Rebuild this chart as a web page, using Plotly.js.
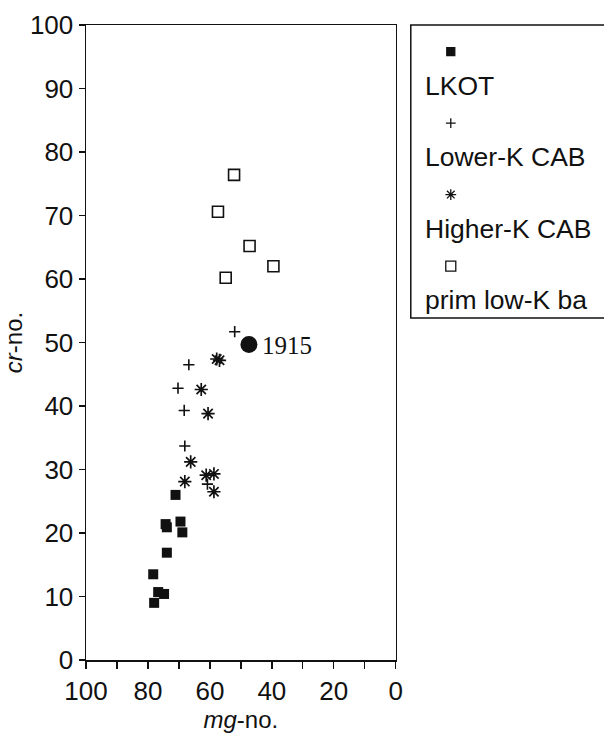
<!DOCTYPE html>
<html>
<head>
<meta charset="utf-8">
<script src="https://cdn.plot.ly/plotly-3.0.1.min.js"></script>
<style>html,body{margin:0;padding:0;background:#fff;}#chart{width:604px;height:733px;}</style>
</head>
<body>
<div id="chart"></div>
<script>
// ---- data ----
var lkotX = [71.1, 74.3, 73.9, 69.5, 68.9, 73.9, 78.3, 76.7, 74.8, 78.0];
var lkotY = [26.0, 21.4, 20.9, 21.8, 20.1, 16.9, 13.5, 10.7, 10.4, 9.0];

var lowerKX = [52.0, 66.8, 70.3, 68.3, 68.1, 60.8];
var lowerKY = [51.7, 46.5, 42.8, 39.3, 33.7, 27.7];

var higherKX = [57.8, 56.9, 62.8, 60.6, 66.2, 61.2, 58.7, 68.1, 58.7];
var higherKY = [47.4, 47.2, 42.6, 38.8, 31.2, 29.1, 29.3, 28.1, 26.5];

var primX = [52.2, 57.4, 47.2, 39.5, 54.9];
var primY = [76.4, 70.6, 65.2, 62.0, 60.2];

var sampleX = [47.4];
var sampleY = [49.7];
var sampleLabel = ['1915'];

var seriesNames = ['LKOT', 'Lower-K CAB', 'Higher-K CAB', 'prim low-K ba'];

var xTickVals = [100, 90, 80, 70, 60, 50, 40, 30, 20, 10, 0];
var xTickText = ['100', '', '80', '', '60', '', '40', '', '20', '', '0'];
var yTickVals = [0, 10, 20, 30, 40, 50, 60, 70, 80, 90, 100];

// ---- styles ----
var ink = '#111111';
var sans = 'Liberation Sans, Arial, sans-serif';
var styles = [
  {symbol: 'square', size: 10, color: ink, line: {width: 0, color: ink}},
  {symbol: 'cross-thin-open', size: 8, color: ink, line: {width: 1.6, color: ink}},
  {symbol: 'asterisk-open', size: 11, color: ink, line: {width: 1.7, color: ink}},
  {symbol: 'square-open', size: 11, color: ink, line: {width: 1.6, color: ink}}
];
var xs = [lkotX, lowerKX, higherKX, primX];
var ys = [lkotY, lowerKY, higherKY, primY];

var traces = [];
for (var i = 0; i < 4; i++) {
  traces.push({
    type: 'scatter', mode: 'markers', x: xs[i], y: ys[i], name: seriesNames[i],
    marker: styles[i], xaxis: 'x', yaxis: 'y', hoverinfo: 'x+y+name'
  });
}
traces.push({
  type: 'scatter', mode: 'markers', x: sampleX, y: sampleY, name: sampleLabel[0],
  marker: {symbol: 'circle', size: 17, color: ink}, xaxis: 'x', yaxis: 'y'
});

// legend symbols drawn on a helper axis pair
var legSymY = [], legTextY = [];
for (var k = 0; k < 4; k++) { legSymY.push(0.373 + k); legTextY.push(0.853 + k); }
var legSizes = [8, 7, 9, 10];
for (var j = 0; j < 4; j++) {
  traces.push({
    type: 'scatter', mode: 'markers', x: [0.207], y: [legSymY[j]],
    marker: {symbol: styles[j].symbol, size: legSizes[j], color: ink, line: {width: 1.3, color: ink}},
    xaxis: 'x2', yaxis: 'y2', hoverinfo: 'skip'
  });
}

var annotations = [{
  xref: 'x', yref: 'y', x: sampleX[0], y: sampleY[0], text: sampleLabel[0],
  showarrow: false, xanchor: 'left', yanchor: 'middle', xshift: 11, yshift: -1,
  font: {family: 'Liberation Serif, Times New Roman, serif', size: 25, color: ink}
}];
for (var m = 0; m < 4; m++) {
  annotations.push({
    xref: 'x2', yref: 'y2', x: 0.064, y: legTextY[m], text: seriesNames[m],
    showarrow: false, xanchor: 'left', yanchor: 'middle',
    font: {family: sans, size: 26.5, color: ink}
  });
}

var layout = {
  width: 604, height: 733,
  margin: {l: 85.5, r: 0, t: 25, b: 73, pad: 0},
  paper_bgcolor: '#ffffff', plot_bgcolor: '#ffffff',
  showlegend: false,
  font: {family: sans, size: 24, color: ink},
  xaxis: {
    domain: [0, 0.598], range: [100, 0], autorange: false,
    tickmode: 'array', tickvals: xTickVals, ticktext: xTickText,
    ticks: 'outside', ticklen: 7, tickwidth: 1.3, tickcolor: ink,
    showline: true, linewidth: 1.5, linecolor: ink, mirror: true,
    showgrid: false, zeroline: false,
    tickfont: {family: sans, size: 26, color: ink},
    title: {text: '<i>mg</i>-no.', standoff: 10, font: {family: sans, size: 24, color: ink}}
  },
  yaxis: {
    domain: [0, 1], range: [0, 100], autorange: false,
    tickmode: 'array', tickvals: yTickVals,
    ticks: 'outside', ticklen: 6, tickwidth: 1.3, tickcolor: ink,
    showline: true, linewidth: 1.5, linecolor: ink, mirror: true,
    showgrid: false, zeroline: false,
    tickfont: {family: sans, size: 26, color: ink},
    title: {text: '<i>cr</i>-no.', standoff: 6, font: {family: sans, size: 24, color: ink}}
  },
  xaxis2: {domain: [0.627, 1], range: [0, 1], anchor: 'y2', visible: false, fixedrange: true},
  yaxis2: {domain: [0.5386, 1], range: [4.1, 0], anchor: 'x2', visible: false, fixedrange: true},
  shapes: [{
    type: 'rect', xref: 'paper', yref: 'paper', x0: 0.627, x1: 1.05, y0: 0.5386, y1: 1,
    line: {color: ink, width: 1.5}
  }],
  annotations: annotations
};

Plotly.newPlot('chart', traces, layout, {displayModeBar: false, staticPlot: true});
</script>
</body>
</html>
